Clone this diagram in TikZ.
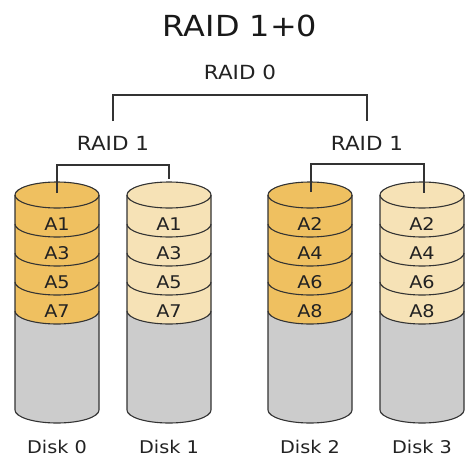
\documentclass[tikz,border=0pt]{standalone}
\usepackage{fontspec}
\setmainfont{DejaVu Sans}[FakeStretch=1.1]
\definecolor{golddark}{HTML}{EFC060}
\definecolor{goldlight}{HTML}{F6E2B6}
\definecolor{diskgray}{HTML}{CCCCCC}
\definecolor{edge}{HTML}{333333}
\definecolor{txt}{HTML}{222222}
\begin{document}
\begin{tikzpicture}[x=1pt,y=-1pt,
  diskline/.style={draw=edge,line width=1.1pt},
  conn/.style={draw=edge,line width=1.1pt},
  blocklabel/.style={font=\fontsize{17.5}{17.5}\selectfont,text=txt,inner sep=0pt},
  raidlabel/.style={font=\fontsize{19.5}{19.5}\selectfont,text=txt,inner sep=0pt},
  disklabel/.style={font=\fontsize{17.5}{17.5}\selectfont,text=txt,inner sep=0pt},
  titlelabel/.style={font=\fontsize{29}{29}\selectfont,text=black!90,inner sep=0pt}]
\useasboundingbox (0,0) rectangle (472,464);
\fill[white] (0,0) rectangle (472,464);

% disks
\foreach \x/\col/\lab/\n in {57/golddark/{1,3,5,7}/0, 169/goldlight/{1,3,5,7}/1, 310/golddark/{2,4,6,8}/2, 422/goldlight/{2,4,6,8}/3}{
  \begin{scope}[shift={(\x,0)}]
    \fill[diskgray] (-42,311) arc(180:0:42 and 13) -- (42,410) arc(0:180:42 and 13) -- cycle;
    \fill[\col] (-42,195) -- (-42,311) arc(180:0:42 and 13) -- (42,195) -- cycle;
    \fill[\col] (0,195) ellipse (42 and 13);
    \draw[diskline] (-42,195) -- (-42,410) arc(180:0:42 and 13) -- (42,195);
    \draw[diskline] (0,195) ellipse (42 and 13);
    \foreach \c in {224,253,282,311} \draw[diskline] (-42,\c) arc(180:0:42 and 13);
    \foreach \v [count=\k from 0] in \lab
      \node[blocklabel] (blk\n-\k) at (0,{224+29*\k}) {A\v};
    \node[disklabel] (disk\n) at (0,447) {Disk \n};
  \end{scope}}

% titles
\node[titlelabel] (title) at (240,26) {RAID 1+0};
\node[raidlabel] (r0) at (240,72) {RAID 0};
\node[raidlabel] (r1a) at (113,143) {RAID 1};
\node[raidlabel] (r1b) at (367,143) {RAID 1};

% connector coordinates
\coordinate (r1atop) at (113,121);
\coordinate (r1btop) at (367,121);
\coordinate (r0bar) at (240,95);
\coordinate (d0top) at (57,193);
\coordinate (d1top) at (169,179);
\coordinate (lbar) at (113,165);
\coordinate (d2top) at (311,192);
\coordinate (d3top) at (424,193);
\coordinate (rbar) at (367,164);

\draw[conn] (r1atop) |- (r0bar) -| (r1btop);
\draw[conn] (d0top) |- (lbar) -| (d1top);
\draw[conn] (d2top) |- (rbar) -| (d3top);
\end{tikzpicture}
\end{document}
